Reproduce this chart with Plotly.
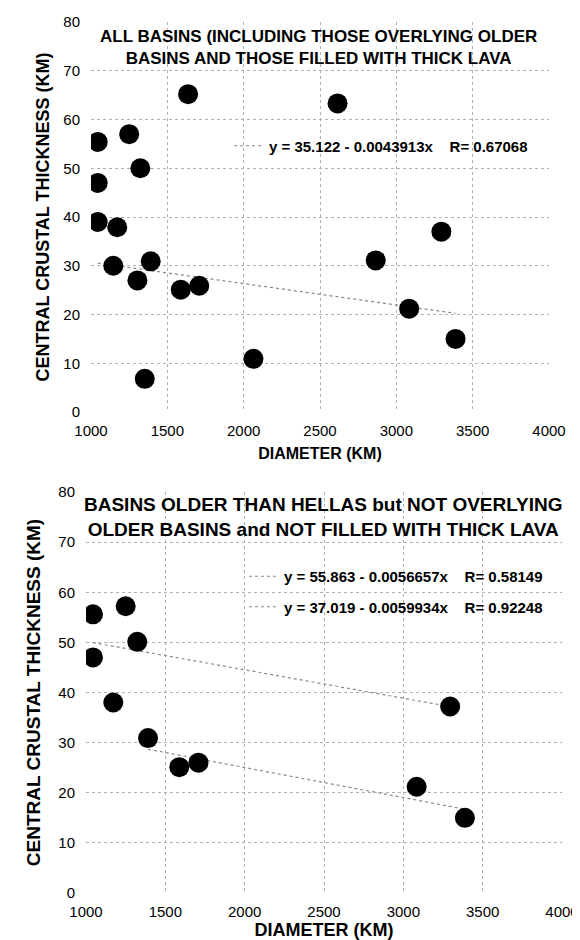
import plotly.graph_objects as go

# ---- data ----
diameter_all = [1636, 2615, 1044, 1250, 1323, 1044, 1044, 1172, 3295, 1146,
                1391, 2865, 1304, 1588, 1709, 3084, 3388, 2064, 1352]
thickness_all = [65.2, 63.3, 55.4, 57.0, 50.0, 47.0, 39.0, 37.9, 37.0, 30.0,
                 30.9, 31.1, 27.0, 25.1, 25.9, 21.2, 15.0, 10.9, 6.8]

diameter_g1 = [1044, 1250, 1323, 1044, 1172, 3295]
thickness_g1 = [55.6, 57.2, 50.1, 47.0, 38.0, 37.2]
diameter_g2 = [1391, 1588, 1709, 3084, 3388]
thickness_g2 = [30.9, 25.1, 26.0, 21.2, 15.0]

# fit coefficients printed on the chart
fit_all = (35.122, -0.0043913, 0.67068)
fit_g1 = (55.863, -0.0056657, 0.58149)
fit_g2 = (37.019, -0.0059934, 0.92248)

x_ticks = [1000, 1500, 2000, 2500, 3000, 3500, 4000]
y_ticks = [0, 10, 20, 30, 40, 50, 60, 70, 80]

title_top = "ALL BASINS (INCLUDING THOSE OVERLYING OLDER<br>BASINS AND THOSE FILLED WITH THICK LAVA"
title_bot = "BASINS OLDER THAN HELLAS but NOT OVERLYING<br>OLDER BASINS and NOT FILLED WITH THICK LAVA"
x_title = "DIAMETER (KM)"
y_title = "CENTRAL CRUSTAL THICKNESS (KM)"

FONT = "Liberation Sans, Arial, sans-serif"
W, H = 580, 940


def px_x(p):
    return p / W


def px_y(p):
    return 1 - p / H


def fit_line(xs, coef):
    a, b, _ = coef
    xe = [min(xs), max(xs)]
    return xe, [a + b * v for v in xe]


def lab(coef):
    a, b, r = coef
    nb = "\u00a0"
    bs = f"{abs(b):.7f}".rstrip("0")
    return f"<b>y = {a:.3f} - {bs}x{nb*4}R= {r:.5f}</b>"


fig = go.Figure()

line_style = dict(color="#8a8a8a", width=1.2, dash="dot")
marker_style = dict(color="black", size=20, line=dict(width=0))

# top chart
lx, ly = fit_line(diameter_all, fit_all)
fig.add_trace(go.Scatter(x=lx, y=ly, mode="lines", line=line_style, name=lab(fit_all),
                         xaxis="x", yaxis="y", legend="legend", showlegend=True))
fig.add_trace(go.Scatter(x=diameter_all, y=thickness_all, mode="markers", marker=marker_style,
                         xaxis="x", yaxis="y", showlegend=False))

# bottom chart
lx1, ly1 = fit_line(diameter_g1, fit_g1)
lx2, ly2 = fit_line(diameter_g2, fit_g2)
fig.add_trace(go.Scatter(x=lx1, y=ly1, mode="lines", line=line_style, name=lab(fit_g1),
                         xaxis="x2", yaxis="y2", legend="legend2", legendgroup="g1"))
fig.add_trace(go.Scatter(x=lx2, y=ly2, mode="lines", line=line_style, name=lab(fit_g2),
                         xaxis="x2", yaxis="y2", legend="legend2", legendgroup="g2"))
fig.add_trace(go.Scatter(x=diameter_g1 + diameter_g2, y=thickness_g1 + thickness_g2,
                         mode="markers", marker=marker_style,
                         xaxis="x2", yaxis="y2", showlegend=False))


def xaxis(domain, anchor, tsize, standoff):
    return dict(domain=domain, anchor=anchor, range=[1000, 4000],
                tickmode="array", tickvals=x_ticks, ticktext=[str(v) for v in x_ticks],
                showgrid=True, gridcolor="#b0b0b0", griddash="dot", gridwidth=1,
                zeroline=False, showline=False, ticks="", automargin=False,
                tickfont=dict(family=FONT, size=15, color="black"), ticklabelstandoff=8,
                title=dict(text="<b>" + x_title + "</b>", font=dict(size=tsize), standoff=standoff))


def yaxis(domain, anchor, tsize, standoff):
    return dict(domain=domain, anchor=anchor, range=[0, 80],
                tickmode="array", tickvals=y_ticks, ticktext=[str(v) for v in y_ticks],
                showgrid=True, gridcolor="#b0b0b0", griddash="dot", gridwidth=1,
                zeroline=False, showline=False, ticks="", automargin=False,
                tickfont=dict(family=FONT, size=15, color="black"), ticklabelstandoff=10,
                title=dict(text="<b>" + y_title + "</b>", font=dict(size=tsize), standoff=standoff))


fig.update_layout(
    template="none",
    width=W, height=H, autosize=False,
    margin=dict(l=0, r=0, t=0, b=0, pad=0),
    paper_bgcolor="white", plot_bgcolor="white",
    font=dict(family=FONT, color="black"),
    xaxis=xaxis([px_x(83), px_x(541)], "y", 16, 9),
    yaxis=yaxis([px_y(404), px_y(14)], "x", 18, 9),
    xaxis2=xaxis([px_x(78), px_x(554)], "y2", 18, 4),
    yaxis2=yaxis([px_y(885), px_y(484)], "x2", 19, 12),
    yaxis3=dict(overlaying="y2", anchor="x2", side="right", range=[0, 80],
                showline=True, linecolor="#222222", linewidth=1.5, automargin=False,
                showgrid=False, zeroline=False, showticklabels=False, ticks=""),
    legend=dict(x=px_x(221), y=px_y(138), xanchor="left", yanchor="middle",
                bgcolor="rgba(0,0,0,0)", borderwidth=0,
                font=dict(family=FONT, size=15, color="black")),
    legend2=dict(x=px_x(236), y=px_y(583.5), xanchor="left", yanchor="middle",
                 bgcolor="rgba(0,0,0,0)", borderwidth=0, tracegroupgap=8,
                 font=dict(family=FONT, size=15, color="black")),
    showlegend=True,
)

fig.add_annotation(x=px_x(310), y=px_y(39.5), xref="paper", yref="paper",
                   text="<b>" + title_top + "</b>", showarrow=False,
                   xanchor="center", yanchor="middle",
                   font=dict(family=FONT, size=17, color="black"))
fig.add_annotation(x=px_x(315), y=px_y(508.5), xref="paper", yref="paper",
                   text="<b>" + title_bot + "</b>", showarrow=False,
                   xanchor="center", yanchor="middle",
                   font=dict(family=FONT, size=19, color="black"))

fig.write_html("out.html")
